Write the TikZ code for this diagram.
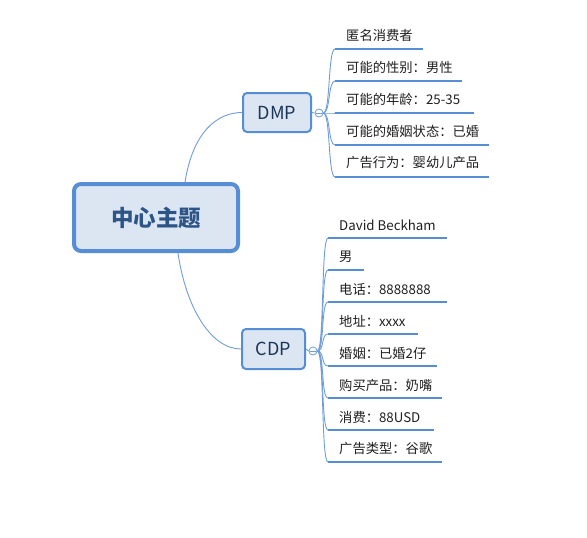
\documentclass[tikz,border=0pt]{standalone}
\usepackage{fontspec}
\setmainfont{Noto Sans CJK SC}
\definecolor{bord}{HTML}{558ED5}
\definecolor{boxfill}{HTML}{DCE6F2}
\definecolor{ctext}{HTML}{2C5487}
\definecolor{stext}{HTML}{1C3558}
\definecolor{link}{HTML}{6E9DD8}
\begin{document}
\begin{tikzpicture}[x=1pt,y=-1pt,
  topic/.style={draw=bord,fill=boxfill,rounded corners=7pt,line width=4pt,
    minimum width=164pt,minimum height=67pt,text=ctext,
    font=\fontsize{22.5}{26}\selectfont\bfseries,inner sep=0pt},
  sub/.style={draw=bord,fill=boxfill,rounded corners=4pt,line width=2pt,
    text=stext,font=\fontsize{18}{20}\selectfont,inner sep=0pt},
  leaf/.style={anchor=west,inner sep=0pt,text=black!88,font=\fontsize{13.3}{15}\selectfont},
  uline/.style={draw=bord,line width=2.6pt},
  link/.style={draw=link,line width=0.9pt},
  fold/.style={circle,draw=link,fill=white,line width=0.8pt,minimum size=8pt,inner sep=0pt}
]
\useasboundingbox (0,0) rectangle (587,538);

\node[topic] (c) at (156,217.5) {中心主题};
\node[sub,minimum width=68pt,minimum height=39pt] (dmp) at (277,112.5) {DMP};
\node[sub,minimum width=63pt,minimum height=40pt] (cdp) at (273.5,349) {CDP};

\draw[link] ([xshift=29pt]c.north) .. controls +(8,-50) and +(-25,0) .. (dmp.west);
\draw[link] ([xshift=22pt]c.south) .. controls +(8,55) and +(-30,0) .. (cdp.west);

\node[fold] (fd) at (319,113) {};
\node[fold] (fc) at (313,351) {};
\draw[link] (dmp.east) -- (fd.west);
\draw[link] (cdp.east) -- (fc.west);
\draw[link,line width=0.7pt] ([xshift=1.8pt]fd.west) -- ([xshift=-1.8pt]fd.east);
\draw[link,line width=0.7pt] ([xshift=1.8pt]fc.west) -- ([xshift=-1.8pt]fc.east);

% DMP children
\foreach \i/\y/\e/\t in {1/49/423/匿名消费者,2/81/462/可能的性别：男性,3/113/474/可能的年龄：25-35,4/145/489/可能的婚姻状态：已婚,5/177/489/广告行为：婴幼儿产品}{
  \coordinate (ds\i) at (335,\y);
  \coordinate (de\i) at (\e,\y);
  \node[leaf] (dt\i) at (346,\y-14) {\t};
  \draw[link] (fd.east) .. controls +(7,0) and (328,\y) .. (ds\i);
  \draw[uline] (ds\i) -- (de\i);
}

% CDP children
\foreach \i/\y/\e/\t in {1/238/447/David Beckham,2/270/364/男,3/302/447/电话：8888888,4/334/418/地址：xxxx,5/366/437/婚姻：已婚2仔,6/398/442/购买产品：奶嘴,7/430/434/消费：88USD,8/462/442/广告类型：谷歌}{
  \coordinate (cs\i) at (328,\y);
  \coordinate (ce\i) at (\e,\y);
  \node[leaf] (ct\i) at (339,\y-13) {\t};
  \draw[link] (fc.east) .. controls +(7,0) and (321,\y) .. (cs\i);
  \draw[uline] (cs\i) -- (ce\i);
}
\end{tikzpicture}
\end{document}
